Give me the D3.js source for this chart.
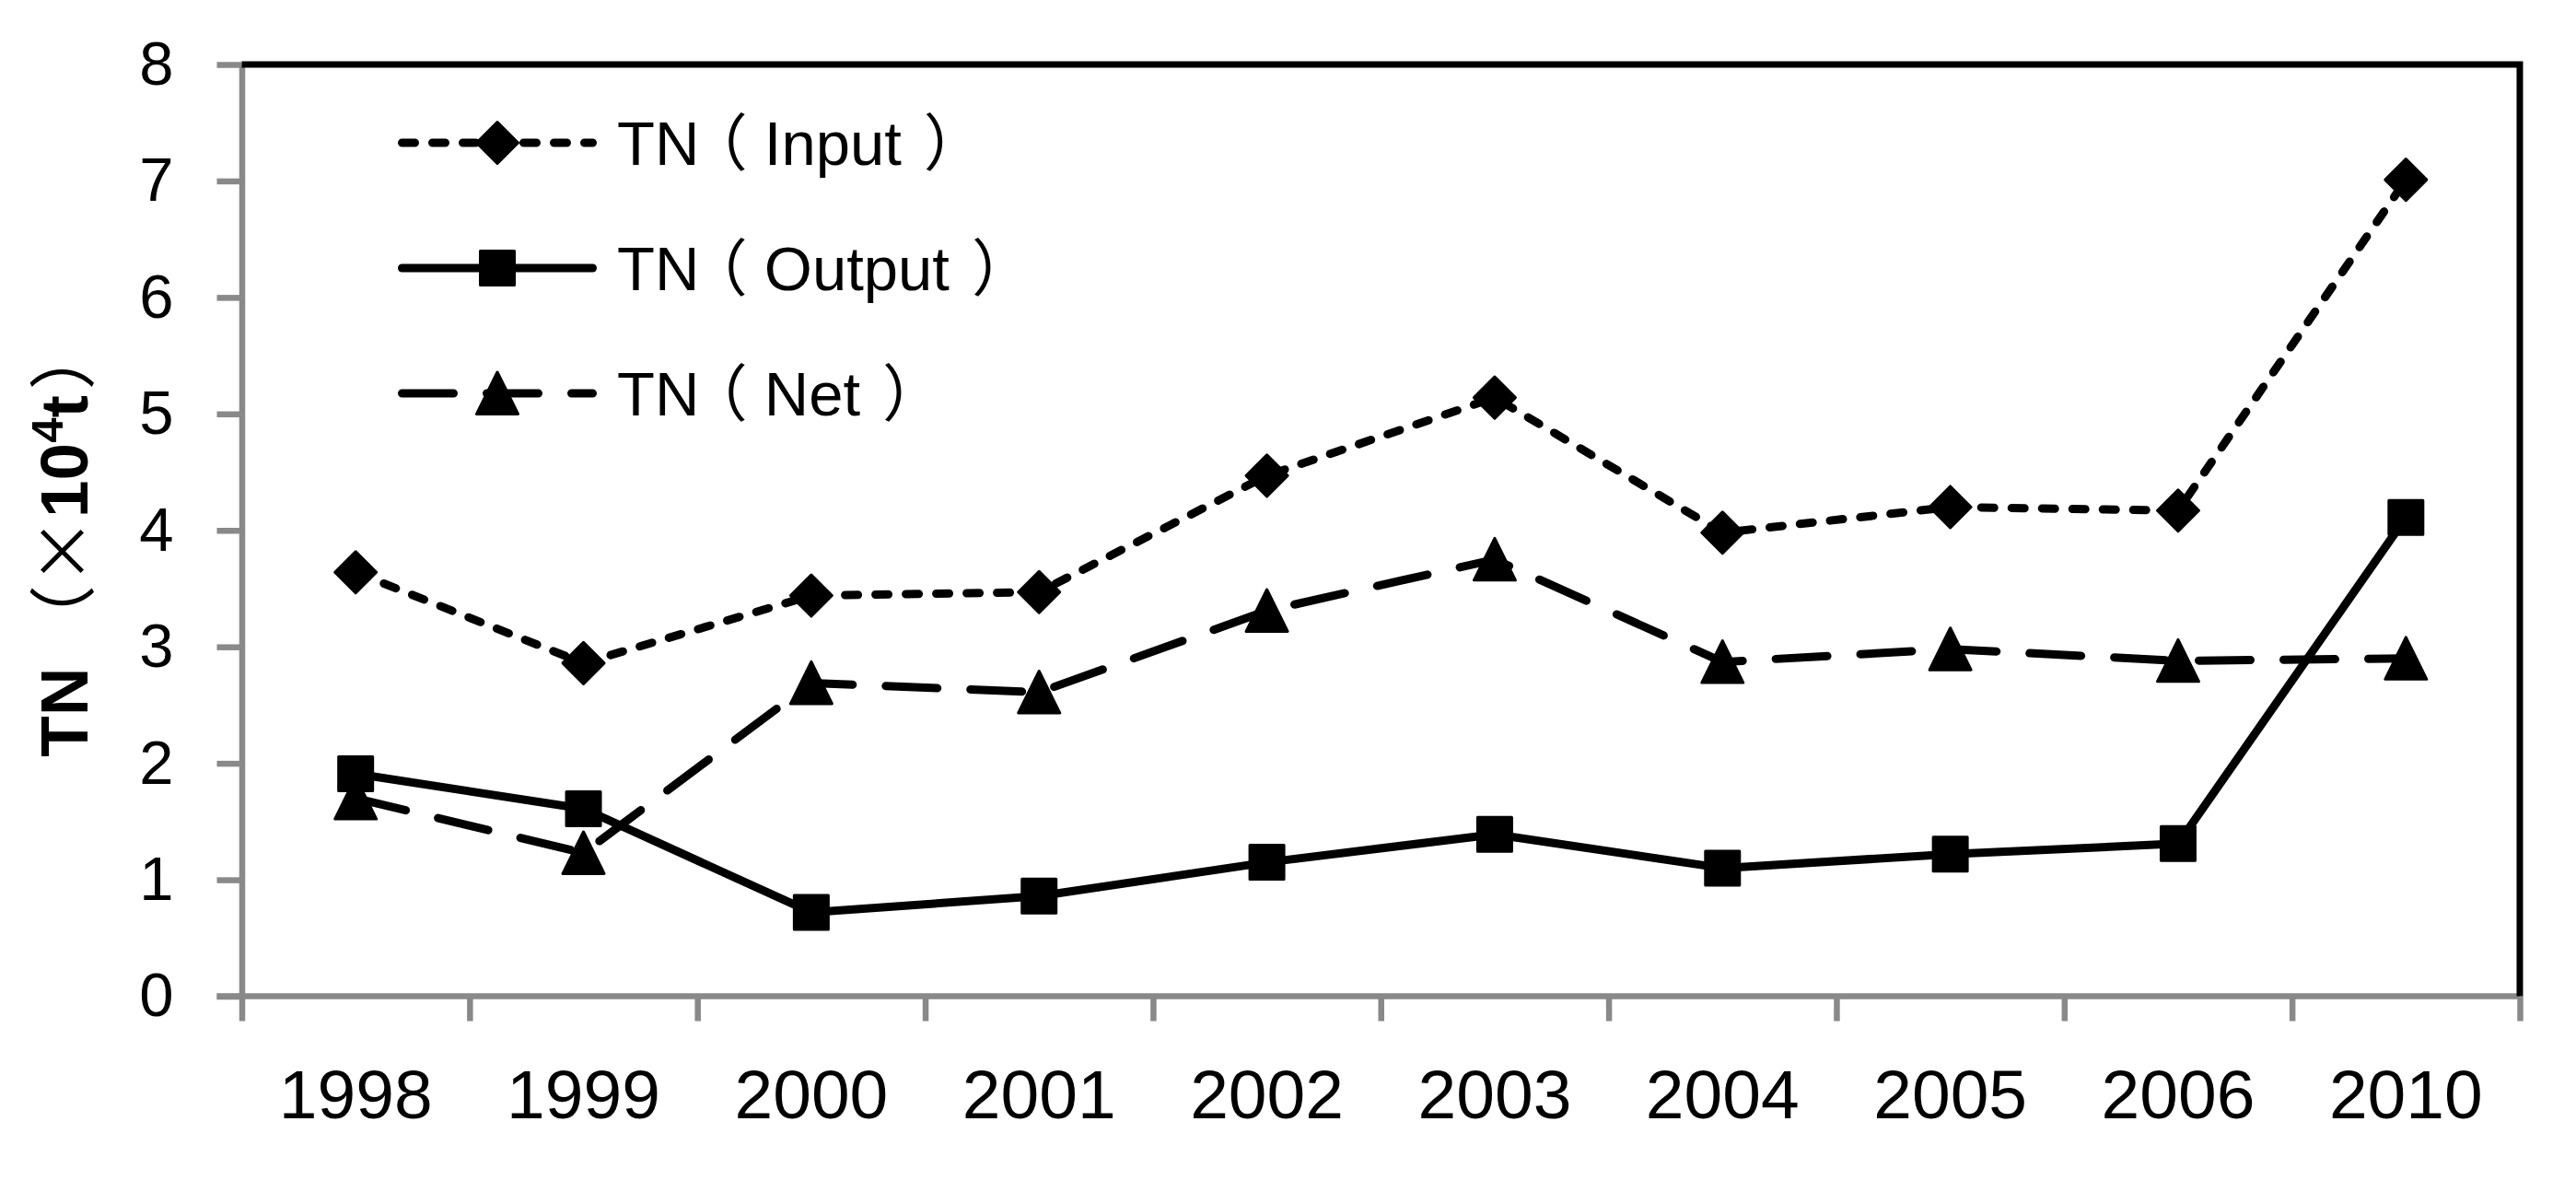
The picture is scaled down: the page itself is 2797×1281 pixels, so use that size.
<!DOCTYPE html>
<html>
<head>
<meta charset="utf-8">
<script src="https://cdn.jsdelivr.net/npm/d3@7"></script>
<style>
	body { margin: 0; background: #fff; }
	text { font-family: 'Liberation Sans', 'Noto Sans CJK SC', sans-serif; fill: #000; }
	.halfBracket { font-feature-settings: "halt"; }
</style>
</head>
<body>
<div id="js_chart"></div>
<script>
	// data (unit: x10^4 t)
	const years = ['1998', '1999', '2000', '2001', '2002', '2003', '2004', '2005', '2006', '2010'];
	const tnInput = [3.64, 2.86, 3.44, 3.47, 4.47, 5.14, 3.98, 4.20, 4.17, 7.01];
	const tnOutput = [1.91, 1.61, 0.72, 0.86, 1.15, 1.39, 1.10, 1.22, 1.31, 4.11];
	const tnNet = [1.70, 1.23, 2.69, 2.61, 3.31, 3.75, 2.87, 2.98, 2.88, 2.90];
	const yTicks = [0, 1, 2, 3, 4, 5, 6, 7, 8];
	const seriesNames = ['TN（Input）', 'TN（Output）', 'TN（Net）'];

	const width = 2797;
	const height = 1281;
	const axisGrey = '#898989';
	const lineWidth = 9;
	let plot = { left: 262.5, right: 2736, top: 70, bottom: 1081.5 };

	let series = [
		{ name: seriesNames[0], values: tnInput, marker: 'diamond', dash: '14,19' },
		{ name: seriesNames[1], values: tnOutput, marker: 'square', dash: null },
		{ name: seriesNames[2], values: tnNet, marker: 'triangle', dash: '56,36' }
	];

	function markerPath(kind) {
		if (kind === 'diamond') {
			return 'M0,-22.5L22.5,0L0,22.5L-22.5,0Z';
		}
		if (kind === 'square') {
			return 'M-18.5,-18.5H18.5V18.5H-18.5Z';
		}
		return 'M0,-23L22.5,22.5H-22.5Z';
	}

	let svg = d3.select('#js_chart').append('svg')
		.attr('width', width)
		.attr('height', height);
	svg.append('rect').attr('width', width).attr('height', height).style('fill', '#fff');

	let x = d3.scaleBand().domain(years).range([plot.left, plot.right]).padding(0);
	let xEdges = d3.scaleLinear().domain([0, years.length]).range([plot.left, plot.right]);
	let y = d3.scaleLinear().domain([0, 8]).range([plot.bottom, plot.top]);

	// y axis
	let yAxis = svg.append('g')
		.attr('transform', 'translate(' + plot.left + ',0)')
		.call(d3.axisLeft(y).tickValues(yTicks).tickSize(27).tickSizeOuter(0).tickPadding(47));
	yAxis.select('.domain').style('stroke', axisGrey).style('stroke-width', 6.5);
	yAxis.selectAll('.tick line').style('stroke', axisGrey).style('stroke-width', 6.5);
	yAxis.selectAll('.tick text').style('font-size', '67px').style('font-family', null);

	// x axis: ticks on category edges, labels at centres
	let xTickAxis = svg.append('g')
		.attr('transform', 'translate(0,' + plot.bottom + ')')
		.call(d3.axisBottom(xEdges).ticks(years.length).tickSize(27).tickSizeOuter(0).tickFormat(''));
	xTickAxis.select('.domain').remove();
	xTickAxis.selectAll('.tick line').style('stroke', axisGrey).style('stroke-width', 6.5);

	let xAxis = svg.append('g')
		.attr('transform', 'translate(0,' + plot.bottom + ')')
		.call(d3.axisBottom(x).tickSize(0).tickSizeOuter(0).tickPadding(79));
	xAxis.select('.domain').style('stroke', axisGrey).style('stroke-width', 6.5)
		.attr('d', 'M' + (plot.left - 27) + ',0H' + plot.right);
	xAxis.selectAll('.tick text').style('font-size', '75px').style('font-family', null);

	// top and right frame
	svg.append('path')
		.attr('d', 'M' + plot.left + ',' + plot.top + 'H' + plot.right + 'V' + plot.bottom)
		.style('fill', 'none').style('stroke', '#000').style('stroke-width', 7);

	// series lines
	let line = d3.line()
		.x(function (d, i) { return x(years[i]) + x.bandwidth() / 2; })
		.y(function (d) { return y(d); });

	series.forEach(function (s) {
		svg.append('path')
			.attr('d', line(s.values))
			.style('fill', 'none')
			.style('stroke', '#000')
			.style('stroke-width', lineWidth)
			.style('stroke-linecap', s.dash ? 'round' : 'butt')
			.style('stroke-linejoin', 'round')
			.style('stroke-dasharray', s.dash);
	});

	series.forEach(function (s) {
		svg.selectAll(null)
			.data(s.values).enter().append('path')
			.attr('d', markerPath(s.marker))
			.attr('transform', function (d, i) {
				return 'translate(' + (x(years[i]) + x.bandwidth() / 2) + ',' + y(d) + ')';
			})
			.style('fill', '#000').style('stroke', '#000')
			.style('stroke-width', 3).style('stroke-linejoin', 'round');
	});

	// legend
	const legendX1 = 432, legendX2 = 648, legendMarkerX = 540, legendTextX = 670;
	const legendRows = [155, 291, 427];
	series.forEach(function (s, i) {
		let g = svg.append('g').attr('transform', 'translate(0,' + legendRows[i] + ')');
		g.append('line')
			.attr('x1', legendX1 + lineWidth / 2).attr('x2', legendX2 - lineWidth / 2)
			.attr('y1', 0).attr('y2', 0)
			.style('stroke', '#000').style('stroke-width', lineWidth)
			.style('stroke-linecap', 'round')
			.style('stroke-dasharray', s.dash);
		g.append('path')
			.attr('d', markerPath(s.marker))
			.attr('transform', 'translate(' + legendMarkerX + ',0)')
			.style('fill', '#000').style('stroke', '#000')
			.style('stroke-width', 3).style('stroke-linejoin', 'round');
		// half-width brackets, spaced out on both sides as in the picture
		let parts = s.name.match(/^(.*?)（(.*)）$/);
		let t = g.append('text')
			.attr('x', legendTextX).attr('y', 0).attr('dy', '0.36em')
			.style('font-size', '67px');
		t.append('tspan').text(parts[1]);
		t.append('tspan').classed('halfBracket', true).attr('dx', 19).text('（');
		t.append('tspan').attr('dx', 18).text(parts[2]);
		t.append('tspan').classed('halfBracket', true).attr('dx', 24).text('）');
	});

	// y axis title
	let title = svg.append('text')
		.attr('transform', 'translate(95,586) rotate(-90)')
		.style('text-anchor', 'middle')
		.style('font-size', '73px');
	title.append('tspan').style('font-weight', 'bold').text('TN');
	title.append('tspan').style('font-family', "'Noto Sans CJK SC'").text(' （×');
	title.append('tspan').style('font-weight', 'bold').text('10');
	title.append('tspan').style('font-weight', 'bold').style('font-size', '49px').attr('dy', -27).text('4');
	title.append('tspan').style('font-weight', 'bold').attr('dy', 27).text('t');
	title.append('tspan').style('font-family', "'Noto Sans CJK SC'").attr('dx', 6).text('）');
</script>
</body>
</html>
